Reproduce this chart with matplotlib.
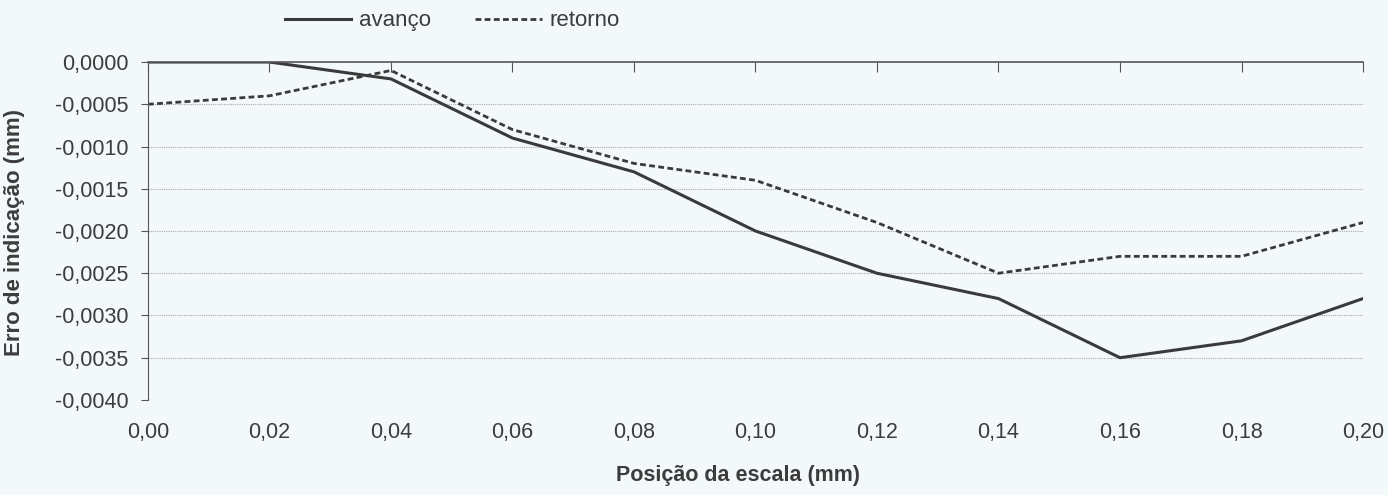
import numpy as np
import matplotlib
matplotlib.use('Agg')
import matplotlib.pyplot as plt
from matplotlib.ticker import FuncFormatter

# data
posicao = [0.00, 0.02, 0.04, 0.06, 0.08, 0.10, 0.12, 0.14, 0.16, 0.18, 0.20]
avanco = [0.0, 0.0, -0.0002, -0.0009, -0.0013, -0.0020, -0.0025, -0.0028, -0.0035, -0.0033, -0.0028]
retorno = [-0.0005, -0.0004, -0.0001, -0.0008, -0.0012, -0.0014, -0.0019, -0.0025, -0.0023, -0.0023, -0.0019]
y_ticks = [0.0, -0.0005, -0.0010, -0.0015, -0.0020, -0.0025, -0.0030, -0.0035, -0.0040]

plt.rcParams['font.family'] = ['Liberation Sans', 'DejaVu Sans']
bg = '#f3f8fa'
ink = '#3a3a3a'
txt = '#3c3c3c'

fig = plt.figure(figsize=(13.88, 4.95), dpi=100, facecolor=bg)
ax = fig.add_axes([0.1066, 0.192, 0.8754, 0.6827])
ax.set_facecolor(bg)

ax.plot(posicao, avanco, color=ink, lw=2.2, label='avanço')
ax.plot(posicao, retorno, color=ink, lw=2.0, ls=(0, (2.1, 1.2)), label='retorno')

ax.set_xlim(0, 0.20)
ax.set_ylim(-0.0040, 0.0)
ax.set_xticks(posicao)
ax.set_yticks(y_ticks)

comma = lambda fmt: FuncFormatter(lambda v, p: (fmt % v).replace('.', ','))
ax.xaxis.set_major_formatter(comma('%.2f'))
ax.yaxis.set_major_formatter(comma('%.4f'))

# gridlines
for v in y_ticks[1:]:
    ax.axhline(v, color='#a8a8a8', lw=0.8, ls=(0, (1, 1)), zorder=0)

for s in ['right', 'bottom']:
    ax.spines[s].set_visible(False)
ax.spines['left'].set_color('#555555')
ax.spines['top'].set_color('#555555')
ax.spines['top'].set_linewidth(1.2)

ax.tick_params(axis='x', length=0, pad=16, labelsize=15.5, colors=txt)
ax.tick_params(axis='y', direction='out', length=5, pad=9, color='#555555', labelsize=15.5, labelcolor=txt)

# zero line ticks pointing down into the plot
top = ax.secondary_xaxis('top')
top.set_xticks(posicao)
top.tick_params(direction='in', length=7, color='#555555', labeltop=False)
top.spines['top'].set_visible(False)

ax.set_ylabel('Erro de indicação (mm)', fontsize=16, fontweight='bold', color=txt)
ax.set_xlabel('Posição da escala (mm)', fontsize=15.5, fontweight='bold', color=txt)
ax.yaxis.label.set_va('center')
ax.xaxis.label.set_va('center')
ax.yaxis.set_label_coords(-0.110, 0.497)
ax.xaxis.set_label_coords(0.486, -0.225)

fig.legend(*ax.get_legend_handles_labels(), loc='center left', bbox_to_anchor=(0.205, 0.958),
           ncol=2, frameon=False, fontsize=16, handlelength=3.0, columnspacing=2.0,
           handletextpad=0.35, borderpad=0, borderaxespad=0, labelcolor=txt)

fig.savefig('out.png', facecolor=bg)
